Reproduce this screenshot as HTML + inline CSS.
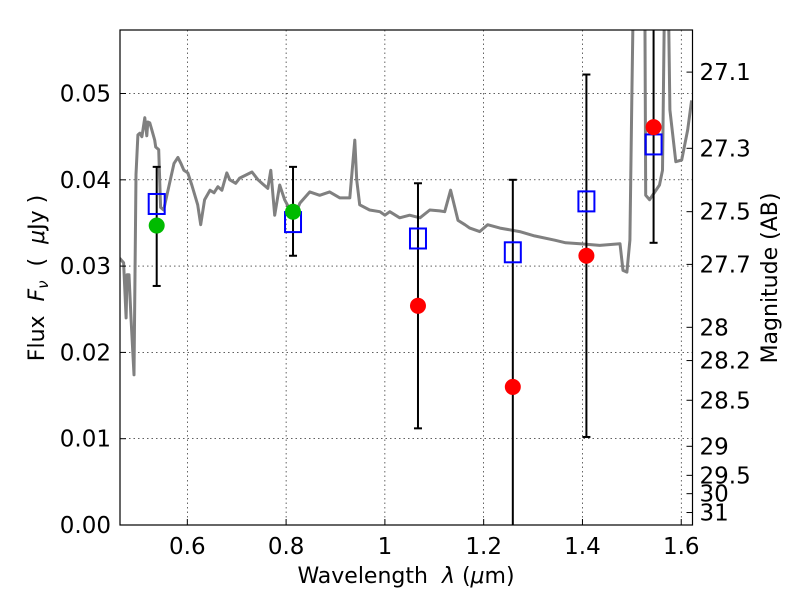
<!DOCTYPE html>
<html><head><meta charset="utf-8"><style>
body{margin:0;background:#fff}
svg text{font-family:"DejaVu Sans","Liberation Sans",sans-serif;fill:#000}
</style></head><body>
<svg id="chart" width="800" height="600" xmlns="http://www.w3.org/2000/svg">
<defs><clipPath id="clip"><rect x="120" y="30" width="572.5" height="495"/></clipPath></defs>
<g id="grid"></g>
<g id="spec" clip-path="url(#clip)"></g>
<g id="marks" clip-path="url(#clip)"></g>
<g id="axes"></g>
<text x="406" y="583" font-size="22" text-anchor="middle" xml:space="preserve">Wavelength  <tspan font-style="italic">λ</tspan> (<tspan font-style="italic">μ</tspan>m)</text>
<text transform="translate(44,278) rotate(-90)" font-size="22" text-anchor="middle" xml:space="preserve">Flux  <tspan font-style="italic">F</tspan><tspan font-style="italic" font-size="15" dy="4">ν</tspan><tspan dy="-4">  (  </tspan><tspan font-style="italic">μ</tspan>Jy )</text>
<text transform="translate(777,278) rotate(-90)" font-size="22" text-anchor="middle">Magnitude (AB)</text>
</svg>
<script>
const specLam=[0.463,0.471,0.476,0.478,0.482,0.486,0.492,0.496,0.500,0.504,0.508,0.514,0.518,0.520,0.524,0.528,0.534,0.536,0.542,0.546,0.552,0.573,0.581,0.587,0.593,0.601,0.609,0.621,0.627,0.635,0.646,0.654,0.662,0.670,0.680,0.686,0.698,0.706,0.731,0.743,0.751,0.763,0.769,0.777,0.787,0.797,0.808,0.818,0.828,0.848,0.868,0.888,0.909,0.929,0.939,0.943,0.949,0.969,0.990,1.000,1.010,1.030,1.050,1.071,1.091,1.111,1.121,1.133,1.148,1.162,1.172,1.192,1.208,1.233,1.273,1.303,1.344,1.366,1.395,1.435,1.476,1.482,1.490,1.496,1.500,1.504,1.526,1.528,1.536,1.556,1.562,1.567,1.573,1.577,1.589,1.601,1.613,1.621];
const specFlux=[0.0309,0.0304,0.0240,0.0290,0.0290,0.0240,0.0174,0.0406,0.0452,0.0454,0.0450,0.0472,0.0451,0.0467,0.0466,0.0458,0.0446,0.0438,0.0435,0.0368,0.0365,0.0419,0.0426,0.0419,0.0411,0.0408,0.0394,0.0371,0.0348,0.0377,0.0388,0.0385,0.0392,0.0388,0.0408,0.0400,0.0396,0.0402,0.0409,0.0400,0.0396,0.0390,0.0411,0.0359,0.0394,0.0377,0.0365,0.0359,0.0373,0.0386,0.0382,0.0386,0.0379,0.0379,0.0446,0.0400,0.0371,0.0365,0.0363,0.0359,0.0363,0.0356,0.0359,0.0356,0.0365,0.0364,0.0363,0.0388,0.0353,0.0348,0.0344,0.0340,0.0348,0.0344,0.0340,0.0335,0.0330,0.0327,0.0326,0.0324,0.0326,0.0295,0.0293,0.0330,0.0492,0.0650,0.0650,0.0382,0.0377,0.0394,0.0411,0.0650,0.0650,0.0481,0.0421,0.0423,0.0458,0.0492];
const bandLam=[0.538,0.814,1.067,1.259,1.408,1.544];
const modelFlux=[0.0372,0.0351,0.0332,0.0316,0.0375,0.0441];
const obsFlux=[0.0347,0.0363,0.0254,0.0160,0.0312,0.0461];
const obsDetected=[true,true,false,false,false,false];
const errHi=[0.0415,0.0415,0.0396,0.0400,0.0522,0.0700];
const errLo=[0.0277,0.0312,0.0112,-0.0100,0.0102,0.0327];
const xTicks=[0.6,0.8,1.0,1.2,1.4,1.6];
const xTickLabels=["0.6","0.8","1","1.2","1.4","1.6"];
const yTicks=[0,0.01,0.02,0.03,0.04,0.05];
const yTickLabels=["0.00","0.01","0.02","0.03","0.04","0.05"];
const magTicks=[27.1,27.3,27.5,27.7,28,28.2,28.5,29,29.5,30,31];
const magTickLabels=["27.1","27.3","27.5","27.7","28","28.2","28.5","29","29.5","30","31"];

const L=120,R=692.5,T=30,B=525;
const xMin=0.4637,xMax=1.6228,yMin=0,yMax=0.05736;
const sx=v=>L+(v-xMin)/(xMax-xMin)*(R-L);
const sy=v=>B-(v-yMin)/(yMax-yMin)*(B-T);
const magToFlux=m=>Math.pow(10,(23.9-m)/2.5);
const NS="http://www.w3.org/2000/svg";
function mk(tag,attrs,parent){const e=document.createElementNS(NS,tag);for(const k in attrs)e.setAttribute(k,attrs[k]);parent.appendChild(e);return e;}
const grid=document.getElementById('grid'),axes=document.getElementById('axes'),spec=document.getElementById('spec'),marks=document.getElementById('marks');

xTicks.forEach((t,i)=>{
  const x=sx(t);
  const g=mk('line',{x1:x,x2:x,y1:T,y2:B,stroke:'#000','stroke-width':0.6,'stroke-dasharray':'1.5,3'},grid);
  
  
  const tk=mk('line',{x1:x,x2:x,y1:B,y2:B-6,stroke:'#000','stroke-width':1},axes);
  
  
  const lb=mk('text',{x:x,y:B+29,'font-size':23,'text-anchor':'middle'},axes);
  lb.textContent=xTickLabels[i];
  
  
});
yTicks.forEach((t,i)=>{
  const y=sy(t);
  if(t>0){const g=mk('line',{x1:L,x2:R,y1:y,y2:y,stroke:'#000','stroke-width':0.6,'stroke-dasharray':'1.5,3'},grid);
  
  }
  const tk=mk('line',{x1:L,x2:L+6,y1:y,y2:y,stroke:'#000','stroke-width':1},axes);
  
  
  const lb=mk('text',{x:L-9,y:y+8,'font-size':23,'text-anchor':'end'},axes);
  lb.textContent=yTickLabels[i];
  
  
});
magTicks.forEach((m,i)=>{
  const y=sy(magToFlux(m));
  const tk=mk('line',{x1:R,x2:R-6,y1:y,y2:y,stroke:'#000','stroke-width':1},axes);
  
  
  const lb=mk('text',{x:R+7,y:y+8,'font-size':23},axes);
  lb.textContent=magTickLabels[i];
  
  
});
const frame=mk('rect',{x:L,y:T,width:R-L,height:B-T,fill:'none',stroke:'#000','stroke-width':1.2},axes);



const d=specLam.map((l,i)=>(i?'L':'M')+sx(l).toFixed(1)+','+sy(specFlux[i]).toFixed(1)).join(' ');
const sp=mk('path',{d:d,fill:'none',stroke:'#808080','stroke-width':3,'stroke-linejoin':'round'},spec);



bandLam.forEach((l,i)=>{
  const x=sx(l);
  const eb=mk('line',{x1:x,x2:x,y1:sy(errHi[i]),y2:sy(errLo[i]),stroke:'#000','stroke-width':2},marks);
  
  
  [errHi[i],errLo[i]].forEach(v=>{const c=mk('line',{x1:x-4,x2:x+4,y1:sy(v),y2:sy(v),stroke:'#000','stroke-width':2},marks);
    
    });
  const sq=mk('rect',{x:x-8,y:sy(modelFlux[i])-10,width:16,height:20,fill:'none',stroke:'#0000ff','stroke-width':2},marks);
  
  
  const c=mk('circle',{cx:x,cy:sy(obsFlux[i]),r:8,fill:obsDetected[i]?'#00bb00':'#ff0000'},marks);
  
  
});
</script>
</body></html>
